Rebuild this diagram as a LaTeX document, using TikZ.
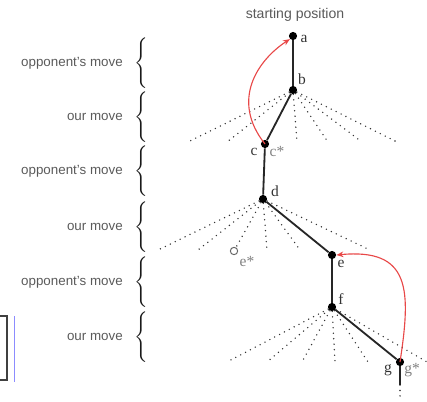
\documentclass[tikz,border=0pt]{standalone}
\usepackage{amsmath}
\usepackage{fontspec}
\setmainfont{Liberation Serif}
\setsansfont{Liberation Sans}
\usetikzlibrary{arrows.meta}
\definecolor{movegray}{RGB}{90,90,90}
\definecolor{backred}{RGB}{232,72,72}

\begin{document}
\begin{tikzpicture}[x=0.025cm, y=-0.025cm,
    posdot/.style={circle, fill=black, inner sep=0pt, minimum size=5.8pt},
    altdot/.style={circle, draw=black!60, line width=0.7pt, inner sep=0pt, minimum size=5.2pt},
    playline/.style={line width=1.3pt, draw=black!85},
    othermove/.style={line width=1.1pt, dash pattern=on 0pt off 3.9pt, line cap=round, draw=black!80},
    lbl/.style={font=\fontsize{11}{12}\selectfont, inner sep=0pt, text=black!80},
    starlbl/.style={lbl, text=black!50},
    turn/.style={font=\sffamily\fontsize{9.5}{11}\selectfont, text=movegray, anchor=east, inner sep=0pt},
    bracenode/.style={anchor=west, inner sep=0pt, text=black!90, font=\fontsize{12.5}{13}\selectfont},
    jumpback/.style={draw=backred, line width=0.8pt, -{Stealth[length=5pt, width=4pt]}}]

    \useasboundingbox (0,0) rectangle (427,401);

    % Positions
    \node[font=\sffamily\fontsize{10}{12}\selectfont, text=movegray] (start) at (295,15) {starting position};
    \node[posdot] (a) at (293,36) {};
    \node[posdot] (b) at (293,90) {};
    \node[posdot] (c) at (265,144) {};
    \node[posdot] (d) at (263,199) {};
    \node[posdot] (e) at (332,255) {};
    \node[altdot] (estar) at (234,251) {};
    \node[posdot] (f) at (332,307) {};
    \node[posdot] (g) at (400,362) {};
    \coordinate (gend) at (400,385);
    \coordinate (gdots) at (400,399);

    % Labels
    \node[lbl] (la) at (304,39) {a};
    \node[lbl] (lb) at (302,79) {b};
    \node[lbl] (lc) at (254,152) {c};
    \node[starlbl] (lcs) at (277,152) {c*};
    \node[lbl] (ld) at (275,191) {d};
    \node[lbl] (le) at (341,264) {e};
    \node[starlbl] (les) at (247,262) {e*};
    \node[lbl] (lf) at (341,299) {f};
    \node[lbl] (lg) at (388,370) {g};
    \node[starlbl] (lgs) at (412,370) {g*};

    % Other moves
    \foreach \x [count=\i] in {188,227,297,328,362,397}
        \draw[othermove] (b) -- (\x,142) coordinate (b\i);
    \foreach \x [count=\i] in {158,198,267,300,370}
        \draw[othermove] (d) -- (\x,250) coordinate (d\i);
    \draw[othermove] (d) -- (estar);
    \foreach \x [count=\i] in {227,267,302,335,368,427}
        \draw[othermove] (f) -- (\x,362) coordinate (f\i);
    \draw[othermove] (gend) -- (gdots);

    % Line of play
    \draw[playline] (a) -- (b);
    \draw[playline] (b) -- (c);
    \draw[playline] (c) -- (d);
    \draw[playline] (d) -- (e);
    \draw[playline] (e) -- (f);
    \draw[playline] (f) -- (g);
    \draw[playline] (g) -- (gend);

    % Jumps back
    \draw[jumpback] (c.center) .. controls (230,100) and (258,60) .. (a.south west);
    \draw[jumpback] (g.center) .. controls (411,290) and (411,248) .. (e.east);

    % Whose move
    \foreach \y/\who [count=\i] in {63/opponent's move, 117/our move, 171/opponent's move,
                                    227/our move, 282/opponent's move, 337/our move} {
        \node[turn] (t\i) at (123,\y) {\who};
        \node[bracenode] (br\i) at (134,\y) {$\Bigg\{$};
    }

    % Margin marks
    \draw[line width=1pt, black!75] (0,316) -- (7,316) -- (7,380) -- (0,380);
    \draw[line width=0.6pt, blue!45] (14,316) -- (14,382);
\end{tikzpicture}
\end{document}
